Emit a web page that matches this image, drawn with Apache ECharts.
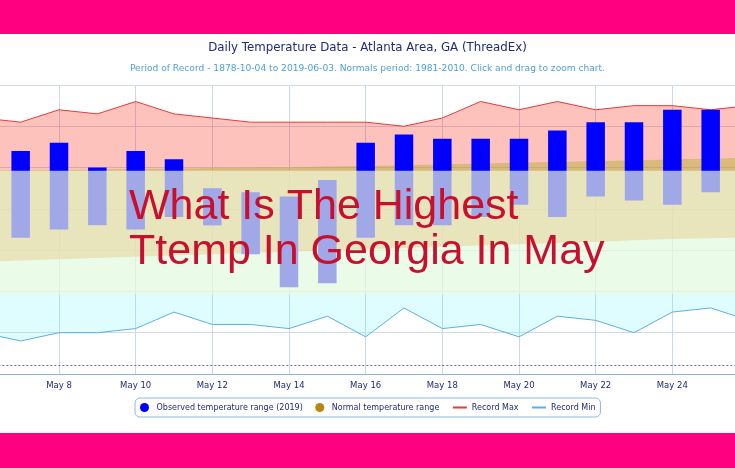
<!DOCTYPE html>
<html>
<head>
<meta charset="utf-8">
<script src="https://cdn.jsdelivr.net/npm/echarts@6/dist/echarts.min.js"></script>
<style>
html,body{margin:0;padding:0;background:#fff;}
#c{width:735px;height:468px;}
</style>
</head>
<body>
<div id="c"></div>
<script>
// ---- data ----
const days = ['May 6','May 7','May 8','May 9','May 10','May 11','May 12','May 13','May 14','May 15','May 16',
              'May 17','May 18','May 19','May 20','May 21','May 22','May 23','May 24','May 25','May 26'];
const obsHigh = [null, 84, 86, 80, 84, 82, 75, 74, 73, 77, 86, 88, 87, 87, 87, 89, 91, 91, 94, 94, null];
const obsLow  = [null, 63, 65, 66, 65, 68, 66, 59, 51, 52, 63, 66, 66, 68, 71, 68, 73, 72, 71, 74, null];
const recordMax = [92, 91, 94, 93, 96, 93, 92, 91, 91, 91, 91, 90, 92, 96, 94, 96, 94, 95, 95, 94, 95];
const recordMin = [40, 38, 40, 40, 41, 45, 42, 42, 41, 44, 39, 46, 41, 42, 39, 44, 43, 40, 45, 46, 43];
const normalMax = [79.3, 79.4, 79.5, 79.6, 79.7, 79.8, 79.9, 80.0, 80.1, 80.3, 80.4,
                   80.6, 80.8, 81.0, 81.2, 81.4, 81.6, 81.8, 82.0, 82.2, 82.4];
const normalMin = [57.2, 57.5, 57.8, 58.1, 58.4, 58.7, 59.0, 59.3, 59.6, 59.9, 60.2,
                   60.5, 60.8, 61.1, 61.4, 61.7, 62.0, 62.4, 62.7, 62.9, 63.1];
const freezing = 32;
const yTicks = {min: 30, max: 100, interval: 10};
const titleText = 'Daily Temperature Data - Atlanta Area, GA (ThreadEx)';
const subText = 'Period of Record - 1878-10-04 to 2019-06-03. Normals period: 1981-2010. Click and drag to zoom chart.';
const headline = ['What Is The Highest', 'Ttemp In Georgia In May'];

// ---- derived ----
const diff = (a, b) => a.map((v, i) => (v == null || b[i] == null) ? null : +(v - b[i]).toFixed(2));
const F = "'DejaVu Sans', Verdana, sans-serif";
const navy = '#1f2a78';
const hidden = {color: 'rgba(0,0,0,0)', borderColor: 'rgba(0,0,0,0)', borderWidth: 0};

const chart = echarts.init(document.getElementById('c'), null, {renderer: 'canvas'});
const bandLine = {symbol: 'none', lineStyle: {width: 0, opacity: 0}, silent: true, stack: 'band', z: 1};

chart.setOption({
  animation: false,
  backgroundColor: '#ffffff',
  title: [
    {text: titleText, left: 'center', top: 41.5, padding: 0, textStyle: {fontFamily: F, fontSize: 11.8, fontWeight: 'normal', color: navy}},
    {text: subText, left: 'center', top: 64.5, padding: 0, textStyle: {fontFamily: F, fontSize: 9.1, fontWeight: 'normal', color: '#4a9fd8'}}
  ],
  legend: {
    left: 135, top: 398,
    padding: [5, 5, 5, 5],
    itemWidth: 14, itemHeight: 9, itemGap: 12.5,
    borderColor: '#8cb8e4', borderWidth: 1, borderRadius: 5,
    textStyle: {fontFamily: F, fontSize: 8, color: navy},
    data: [
      {name: 'Observed temperature range (2019)', icon: 'circle'},
      {name: 'Normal temperature range', icon: 'circle'},
      {name: 'Record Max', itemStyle: hidden},
      {name: 'Record Min', itemStyle: hidden}
    ]
  },
  grid: {left: -17.67, right: -14, top: 85, bottom: 94, containLabel: false, outerBoundsMode: 'none'},
  xAxis: {
    type: 'category', data: days, boundaryGap: false,
    axisLine: {show: true, lineStyle: {color: '#88b0e0', width: 1}},
    axisTick: {show: false},
    axisLabel: {interval: 1, color: navy, fontFamily: F, fontSize: 8.5, margin: 7,
      formatter: (v, i) => (i === 0 || i === days.length - 1) ? '' : v},
    splitLine: {show: true, interval: 1, lineStyle: {color: '#c9d8ea', width: 1}}
  },
  yAxis: {
    type: 'value', min: yTicks.min, max: yTicks.max, interval: yTicks.interval,
    axisLine: {show: false}, axisTick: {show: false}, axisLabel: {show: false},
    splitLine: {lineStyle: {color: '#d2dae6', width: 1}}
  },
  series: [
    Object.assign({name: 'bandBase', type: 'line', data: recordMin}, bandLine),
    Object.assign({name: 'cyanBand', type: 'line', data: diff(normalMin, recordMin),
      areaStyle: {color: 'rgba(110,240,255,0.22)', opacity: 1}}, bandLine),
    Object.assign({name: 'Normal temperature range', type: 'line', data: diff(normalMax, normalMin),
      itemStyle: {color: '#b8860b'},
      areaStyle: {color: 'rgba(193,138,38,0.6)', opacity: 1}}, bandLine),
    Object.assign({name: 'redBand', type: 'line', data: diff(recordMax, normalMax),
      areaStyle: {color: 'rgba(250,30,10,0.27)', opacity: 1}}, bandLine),
    {name: 'Record Max', type: 'line', data: recordMax, symbol: 'none', z: 2,
      itemStyle: {color: '#e33b3b'}, lineStyle: {color: '#e33b3b', width: 1}},
    {name: 'Record Min', type: 'line', data: recordMin, symbol: 'none', z: 2,
      itemStyle: {color: '#5ab0e6'}, lineStyle: {color: '#5ab0e6', width: 1},
      markLine: {symbol: 'none', silent: true, label: {show: false},
        lineStyle: {type: [2, 2], color: '#6a6ad6', width: 1},
        data: [{yAxis: freezing}]}},
    {name: 'obsBase', type: 'bar', stack: 'obs', data: obsLow, barWidth: 18.5, z: 3,
      itemStyle: {color: 'rgba(0,0,0,0)'}, silent: true},
    {name: 'Observed temperature range (2019)', type: 'bar', stack: 'obs', data: diff(obsHigh, obsLow),
      barWidth: 18.5, z: 3, itemStyle: {color: '#0000ff'}}
  ],
  graphic: [
    {type: 'rect', left: 0, top: 0, z: 100, shape: {width: 735, height: 34}, style: {fill: '#ff0080'}},
    {type: 'rect', left: 0, top: 433, z: 100, shape: {width: 735, height: 35}, style: {fill: '#ff0080'}},
    {type: 'rect', x: 0, y: 170.7, z: 90, shape: {width: 735, height: 123.8}, style: {fill: 'rgba(239,251,221,0.67)'}},
    {type: 'text', x: 129, y: 207, z: 101, style: {text: headline[0], fill: '#c8102e',
      font: "normal 43px 'Liberation Sans', Arial, sans-serif", textAlign: 'left', textVerticalAlign: 'middle'}},
    {type: 'text', x: 129, y: 252, z: 101, style: {text: headline[1], fill: '#c8102e',
      font: "normal 43px 'Liberation Sans', Arial, sans-serif", textAlign: 'left', textVerticalAlign: 'middle'}}
  ]
});
</script>
</body>
</html>
